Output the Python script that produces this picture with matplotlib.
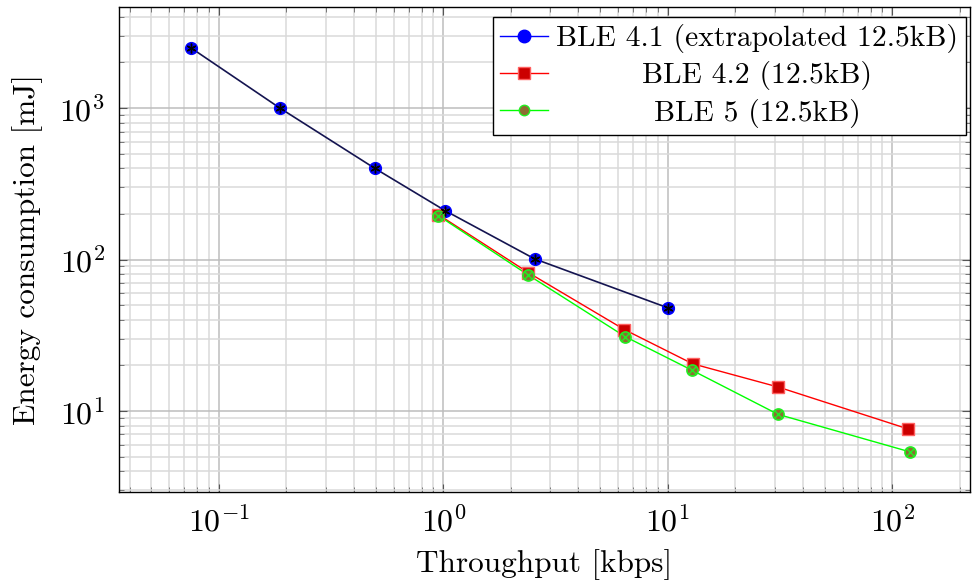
import matplotlib
matplotlib.use("Agg")
import matplotlib.pyplot as plt
from matplotlib.lines import Line2D

# values (throughput kbps, energy mJ)
ble41_x = [0.075, 0.187, 0.495, 1.02, 2.55, 10.0]
ble41_y = [2500, 1000, 400, 210, 101, 48]
ble42_x = [0.95, 2.39, 6.4, 12.9, 31.0, 118.0]
ble42_y = [198, 82, 34.5, 20.5, 14.4, 7.6]
ble5_x = [0.95, 2.39, 6.45, 12.8, 31.0, 120.0]
ble5_y = [195, 79, 31, 18.6, 9.5, 5.37]
labels = ["BLE 4.1 (extrapolated 12.5kB)", "BLE 4.2 (12.5kB)", "BLE 5 (12.5kB)"]

plt.rcParams['font.family'] = 'serif'
plt.rcParams['font.serif'] = ['cmr10']
plt.rcParams['mathtext.fontset'] = 'cm'
plt.rcParams['axes.formatter.use_mathtext'] = True
plt.rcParams['axes.unicode_minus'] = True

fig = plt.figure(figsize=(9.72, 5.85), dpi=100)
ax = fig.add_axes([0.1224, 0.159, 0.8756, 0.829])
ax.set_xscale('log')
ax.set_yscale('log')
ax.set_xlim(0.0359, 222)
ax.set_ylim(2.92, 4645)

ax.grid(True, which='major', color='#bdbdbd', linewidth=1.1, zorder=0)
ax.grid(True, which='minor', color='#dadada', linewidth=1.1, zorder=0)
ax.set_axisbelow(True)

# BLE 4.1
ax.plot(ble41_x, ble41_y, '-', color='#141450', linewidth=1.2, zorder=3)
ax.plot(ble41_x, ble41_y, 'o', color='#0000ee', markeredgecolor='#0000ff',
        markersize=8.5, zorder=4)
ax.plot(ble41_x, ble41_y, linestyle='none', marker=(6, 2, 0), color='black',
        markersize=7, markeredgewidth=1.0, zorder=5)
# BLE 4.2
ax.plot(ble42_x, ble42_y, '-', color='#ff0000', linewidth=1.0, zorder=3)
ax.plot(ble42_x, ble42_y, 's', markerfacecolor='#cc0000', markeredgecolor='#ff6060',
        markersize=8.5, markeredgewidth=1.0, zorder=4)
# BLE 5
ax.plot(ble5_x, ble5_y, '-', color='#00ff00', linewidth=1.0, zorder=3)
ax.plot(ble5_x, ble5_y, 'o', markerfacecolor='#8c6d31', markeredgecolor='#22ee22',
        markersize=8, markeredgewidth=1.2, zorder=4)
ax.plot(ble5_x, ble5_y, 'x', color='#22ee22', markersize=5.5,
        markeredgewidth=1.0, zorder=5)

ax.tick_params(which='both', direction='in', top=True, right=True, labelsize=23)
ax.tick_params(which='major', length=6, width=0.8, color='#555555', pad=10)
ax.tick_params(which='minor', length=3.5, width=0.7, color='#777777')
for s in ax.spines.values():
    s.set_linewidth(1.0)

ax.set_xlabel("Throughput [kbps]", fontsize=22.5, labelpad=8)
ax.set_ylabel("Energy consumption [mJ]", fontsize=22.5, labelpad=12)

handles = [
    Line2D([], [], color='#0000ff', marker='o', markersize=9, linewidth=1.0),
    Line2D([], [], color='#ff0000', marker='s', markerfacecolor='#cc0000',
           markeredgecolor='#ff6060', markersize=9, linewidth=1.0),
    Line2D([], [], color='#00ff00', marker='o', markerfacecolor='#8c6d31',
           markeredgecolor='#22ee22', markersize=7.5, linewidth=1.0),
]
leg = ax.legend(handles, labels, loc='upper right', fontsize=21.3,
                fancybox=False, edgecolor='black', framealpha=1.0,
                bbox_to_anchor=(0.995, 0.98),
                borderaxespad=0.0, handlelength=1.6, handletextpad=0.3,
                labelspacing=0.28, borderpad=0.25)
leg.get_frame().set_linewidth(1.0)

# centre the legend texts like pgfplots does
fig.canvas.draw()
r = fig.canvas.get_renderer()
widths = [t.get_window_extent(r).width for t in leg.get_texts()]
wmax = max(widths)
for t, w in zip(leg.get_texts(), widths):
    t.set_x((wmax - w) / 2.0)

fig.savefig("out.png", dpi=100)
